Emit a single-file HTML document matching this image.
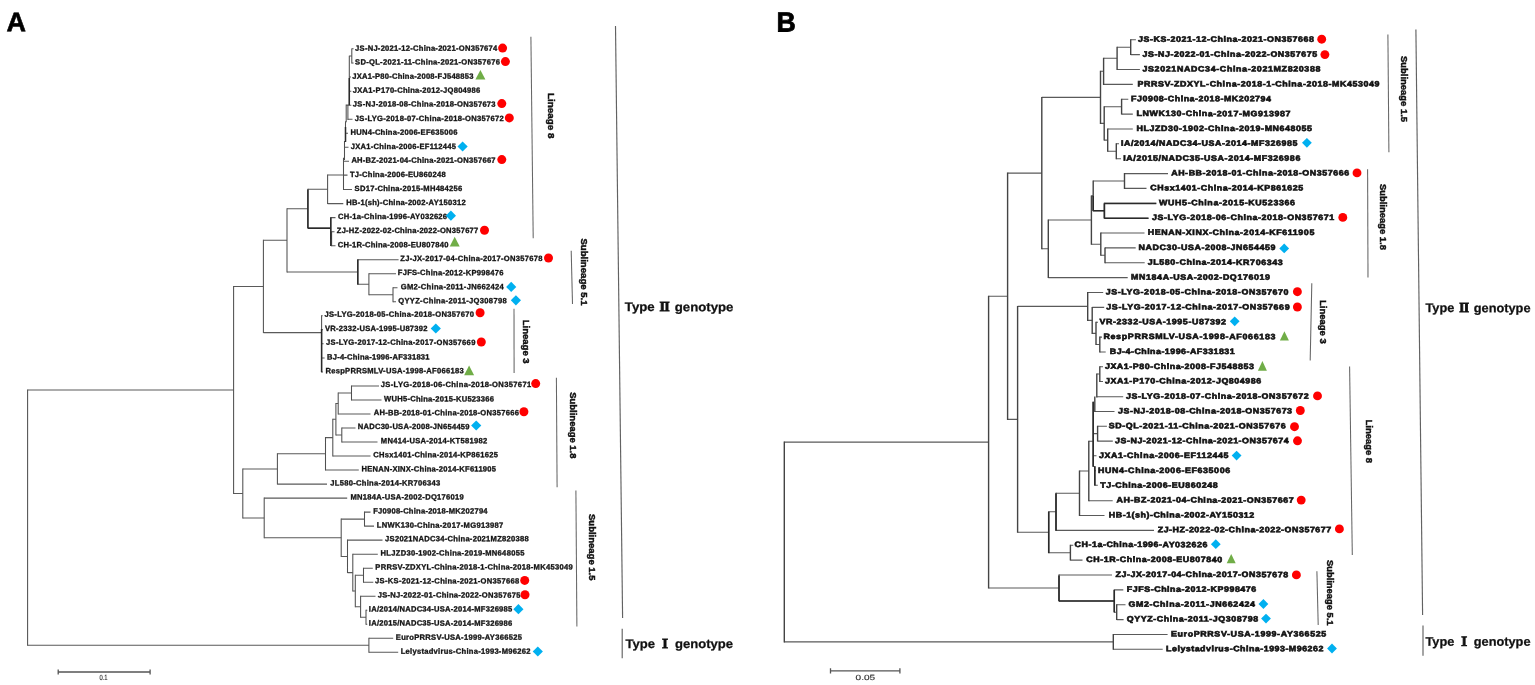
<!DOCTYPE html>
<html lang="en"><head><meta charset="utf-8"><title>Phylogenetic trees</title>
<style>
html,body{margin:0;padding:0;background:#fff;}
body{width:1535px;height:685px;overflow:hidden;}
svg{display:block;font-family:"Liberation Sans","Noto Serif CJK SC",sans-serif;}
.tr{fill:none;stroke:#3c3c3c;stroke-width:1.1;}
.th,.tv{fill:none;}
.tb{fill:none;stroke:#2a2a2a;stroke-width:1.5;}
.lfh{stroke:#5a5a5a;stroke-width:1.05;}
.lfv{stroke:#505050;stroke-width:1.05;}
.rfh{stroke:#5a5a5a;stroke-width:1.1;}
.rfv{stroke:#444;stroke-width:1.4;}
.gl{fill:none;stroke:#666;stroke-width:1.05;}
.bl{fill:none;stroke:#626262;stroke-width:1.15;}
.sc{fill:none;stroke:#555;stroke-width:1.3;}
.lf{font-size:7.6px;font-weight:700;fill:#111;stroke:#151515;stroke-width:0.32px;}
.rf{font-size:7.8px;font-weight:700;fill:#111;stroke:#111;stroke-width:0.6px;}
.gt{font-size:9.4px;font-weight:700;fill:#111;stroke:#111;stroke-width:0.45px;}
.ty{font-size:12.5px;font-weight:700;fill:#111;stroke:#111;stroke-width:0.25px;}
.rn{font-family:"Noto Serif CJK SC",serif;font-weight:900;font-size:12px;stroke-width:0.85px;}
.sl{font-size:7.5px;fill:#333;stroke:#333;stroke-width:0.15px;}
.pn{font-size:27px;font-weight:700;fill:#000;stroke:#000;}
.mc{fill:#ff0000;}.md{fill:#00b0f0;}.mt{fill:#70ad47;}
</style></head>
<body>
<svg width="1535" height="685" viewBox="0 0 1535 685">
<rect width="1535" height="685" fill="#fff"/>
<g id="panelA">
<path class="th lfh" d="M327.6 175H343.5M327.6 203.6H343.3M331.6 231.7H334.5M331.6 245.7H335.5M330.8 217.6H335.5M330.8 238.7H331.6M307.9 189.3H327.6M307.9 228.1H330.8M393 287.7H397.5M393 301.8H396M368.9 273.7H396M368.9 294.8H393M357.8 259.7H398.6M357.8 284.2H368.9M287 208.7H307.9M287 272H357.8M321.6 315.8H322.6M321.6 329.8H323M321.6 343.8H323.6M321.6 357.9H324.6M321.6 371.9H323M263.4 240.3H287M263.4 332.6H321.6M351.5 385.9H379M351.5 399.9H381.5M338.2 392.9H351.5M338.2 413.9H370.5M341.8 428H355.5M341.8 442H377.5M335.9 403.4H338.2M335.9 435H341.8M332.8 419.2H335.9M332.8 456H370.5M325.5 437.6H332.8M325.5 470H358.8M277.4 453.8H325.5M277.4 484.1H327M364.5 512.1H370.5M364.5 526.1H374M363.5 568.2H372.8M363.5 582.2H373.3M366 610.3H367.3M366 624.3H367.3M360.6 596.2H375.5M360.6 617.3H366M355.3 575.2H363.5M355.3 606.8H360.6M352.8 554.2H377.8M352.8 591H355.3M347.5 540.1H382.5M347.5 572.6H352.8M341.2 519.1H364.5M341.2 556.4H347.5M264.2 498.1H347.2M264.2 537.7H341.2M242.8 468.9H277.4M242.8 517.9H264.2M233.6 286.5H263.4M233.6 493.4H242.8M368.9 638.3H393.2M368.9 652.3H398.2M27.6 389.9H233.6M27.6 645.3H368.9M351.8 48.8H353.6M351.8 62.9H353.6M349.3 56H351.8M349.3 77H351M349.3 91.2H351.3M346 105.2H351.3M347.9 119.3H352.5M345.5 133.3H348M344.5 147.3H348.5M343.5 161.3H349M343.5 175.1H347.5M343.5 189.4H352"/>
<path class="tv lfv" d="M327.6 174.5V204.1M331.6 231.2V246.2M330.8 217.1V239.2M307.9 188.8V228.6M393 287.2V302.3M368.9 273.2V295.3M357.8 259.2V284.7M287 208.2V272.5M321.6 315.3V372.4M263.4 239.8V333.1M351.5 385.4V400.4M338.2 392.4V414.4M341.8 427.5V442.5M335.9 402.9V435.5M332.8 418.7V456.5M325.5 437.1V470.5M277.4 453.3V484.6M364.5 511.6V526.6M363.5 567.7V582.7M366 609.8V624.8M360.6 595.7V617.8M355.3 574.7V607.3M352.8 553.7V591.5M347.5 539.6V573.1M341.2 518.6V556.9M264.2 497.6V538.2M242.8 468.4V518.4M233.6 286V493.9M368.9 637.8V652.8M27.6 389.4V645.8M343.5 157.7V189.9M344.5 140.9V160.1M345.5 121.2V141.9M346.2 104.5V122.2M347.9 104.6V119.9M349.3 55.7V105.6M351.8 48.5V63.5"/>
<path class="tb" d="M307.9 189.6L307.9 228.2M307.9 228.3L330.8 228.3M330.8 217.6L330.8 246M349.3 78L349.3 105M345.5 127L345.5 142M321.6 329L321.6 372M357.8 259.5L357.8 284.5"/>
<text class="lf" transform="translate(355.1 50.78) rotate(0.03) scale(1.0 1)" textLength="142.2" lengthAdjust="spacing">JS-NJ-2021-12-China-2021-ON357674</text>
<circle class="mc" cx="502.6" cy="48.1" r="4.5"/>
<text class="lf" transform="translate(355.1 64.54) rotate(0.03) scale(1.0 1)" textLength="144.8" lengthAdjust="spacing">SD-QL-2021-11-China-2021-ON357676</text>
<circle class="mc" cx="505.4" cy="61.6" r="4.5"/>
<text class="lf" transform="translate(352.2 78.7) rotate(0.03) scale(1.0 1)" textLength="121.3" lengthAdjust="spacing">JXA1-P80-China-2008-FJ548853</text>
<path class="mt" d="M475.4 79.5L480.4 70.1L485.4 79.5Z"/>
<text class="lf" transform="translate(352.8 92.81) rotate(0.03) scale(1.0 1)" textLength="127.5" lengthAdjust="spacing">JXA1-P170-China-2012-JQ804986</text>
<text class="lf" transform="translate(352.8 106.57) rotate(0.03) scale(1.0 1)" textLength="142.8" lengthAdjust="spacing">JS-NJ-2018-08-China-2018-ON357673</text>
<circle class="mc" cx="501.8" cy="103.6" r="4.5"/>
<text class="lf" transform="translate(354.8 120.94) rotate(0.03) scale(1.0 1)" textLength="149" lengthAdjust="spacing">JS-LYG-2018-07-China-2018-ON357672</text>
<circle class="mc" cx="509.3" cy="117.9" r="4.5"/>
<text class="lf" transform="translate(350.5 134.8) rotate(0.03) scale(1.0 1)" textLength="106.9" lengthAdjust="spacing">HUN4-China-2006-EF635006</text>
<text class="lf" transform="translate(350.8 148.96) rotate(0.03) scale(1.0 1)" textLength="105.1" lengthAdjust="spacing">JXA1-China-2006-EF112445</text>
<path class="md" d="M457.5 146.5L462.6 141.4L467.7 146.5L462.6 151.6Z"/>
<text class="lf" transform="translate(351.4 162.62) rotate(0.03) scale(1.0 1)" textLength="144.2" lengthAdjust="spacing">AH-BZ-2021-04-China-2021-ON357667</text>
<circle class="mc" cx="501.8" cy="159.6" r="4.5"/>
<text class="lf" transform="translate(349.9 176.93) rotate(0.03) scale(1.0 1)" textLength="95.8" lengthAdjust="spacing">TJ-China-2006-EU860248</text>
<text class="lf" transform="translate(354.6 190.89) rotate(0.03) scale(1.0 1)" textLength="107.7" lengthAdjust="spacing">SD17-China-2015-MH484256</text>
<text class="lf" transform="translate(346.2 204.95) rotate(0.03) scale(1.0 1)" textLength="119.5" lengthAdjust="spacing">HB-1(sh)-China-2002-AY150312</text>
<text class="lf" transform="translate(338.1 219.02) rotate(0.03) scale(1.0 1)" textLength="109" lengthAdjust="spacing">CH-1a-China-1996-AY032626</text>
<path class="md" d="M445.8 215.7L450.9 210.6L456 215.7L450.9 220.8Z"/>
<text class="lf" transform="translate(336.8 232.98) rotate(0.03) scale(1.0 1)" textLength="141.5" lengthAdjust="spacing">ZJ-HZ-2022-02-China-2022-ON357677</text>
<circle class="mc" cx="484.5" cy="230.2" r="4.5"/>
<text class="lf" transform="translate(337.7 247.14) rotate(0.03) scale(1.0 1)" textLength="110.7" lengthAdjust="spacing">CH-1R-China-2008-EU807840</text>
<path class="mt" d="M449.7 246.6L454.7 236.8L459.7 246.6Z"/>
<text class="lf" transform="translate(400.3 260.9) rotate(0.03) scale(1.0 1)" textLength="142.2" lengthAdjust="spacing">ZJ-JX-2017-04-China-2017-ON357678</text>
<circle class="mc" cx="548.5" cy="258" r="4.5"/>
<text class="lf" transform="translate(397.8 275.11) rotate(0.03) scale(1.0 1)" textLength="105.6" lengthAdjust="spacing">FJFS-China-2012-KP998476</text>
<text class="lf" transform="translate(400.7 289.22) rotate(0.03) scale(1.0 1)" textLength="103.1" lengthAdjust="spacing">GM2-China-2011-JN662424</text>
<path class="md" d="M506.1 286.9L511.2 281.8L516.3 286.9L511.2 292Z"/>
<text class="lf" transform="translate(398.2 303.28) rotate(0.03) scale(1.0 1)" textLength="108.5" lengthAdjust="spacing">QYYZ-China-2011-JQ308798</text>
<path class="md" d="M510.8 300.3L515.9 295.2L521 300.3L515.9 305.4Z"/>
<text class="lf" transform="translate(324.4 316.64) rotate(0.03) scale(1.0 1)" textLength="149.7" lengthAdjust="spacing">JS-LYG-2018-05-China-2018-ON357670</text>
<circle class="mc" cx="480.1" cy="312.8" r="4.5"/>
<text class="lf" transform="translate(325 330.96) rotate(0.03) scale(1.0 1)" textLength="102.5" lengthAdjust="spacing">VR-2332-USA-1995-U87392</text>
<path class="md" d="M430.7 328.5L435.8 323.4L440.9 328.5L435.8 333.6Z"/>
<text class="lf" transform="translate(326 344.82) rotate(0.03) scale(1.0 1)" textLength="149.4" lengthAdjust="spacing">JS-LYG-2017-12-China-2017-ON357669</text>
<circle class="mc" cx="481.3" cy="342" r="4.5"/>
<text class="lf" transform="translate(327 359.38) rotate(0.03) scale(1.0 1)" textLength="102.5" lengthAdjust="spacing">BJ-4-China-1996-AF331831</text>
<text class="lf" transform="translate(325.4 373.24) rotate(0.03) scale(1.0 1)" textLength="138.3" lengthAdjust="spacing">RespPRRSMLV-USA-1998-AF066183</text>
<path class="mt" d="M464.1 375.2L469.1 365.6L474.1 375.2Z"/>
<text class="lf" transform="translate(380.8 386.95) rotate(0.03) scale(1.0 1)" textLength="150.4" lengthAdjust="spacing">JS-LYG-2018-06-China-2018-ON357671</text>
<circle class="mc" cx="535.7" cy="383.6" r="4.5"/>
<text class="lf" transform="translate(384.1 401.36) rotate(0.03) scale(1.0 1)" textLength="109.9" lengthAdjust="spacing">WUH5-China-2015-KU523366</text>
<text class="lf" transform="translate(373.7 415.12) rotate(0.03) scale(1.0 1)" textLength="145.2" lengthAdjust="spacing">AH-BB-2018-01-China-2018-ON357666</text>
<circle class="mc" cx="523.9" cy="411.7" r="4.5"/>
<text class="lf" transform="translate(357.7 429.08) rotate(0.03) scale(1.0 1)" textLength="111.9" lengthAdjust="spacing">NADC30-USA-2008-JN654459</text>
<path class="md" d="M471.1 425.5L476.2 420.4L481.3 425.5L476.2 430.6Z"/>
<text class="lf" transform="translate(380.8 443.14) rotate(0.03) scale(1.0 1)" textLength="106.4" lengthAdjust="spacing">MN414-USA-2014-KT581982</text>
<text class="lf" transform="translate(373.3 457.31) rotate(0.03) scale(1.0 1)" textLength="124.6" lengthAdjust="spacing">CHsx1401-China-2014-KP861625</text>
<text class="lf" transform="translate(361.6 471.37) rotate(0.03) scale(1.0 1)" textLength="134.4" lengthAdjust="spacing">HENAN-XINX-China-2014-KF611905</text>
<text class="lf" transform="translate(330.3 485.48) rotate(0.03) scale(1.0 1)" textLength="109.9" lengthAdjust="spacing">JL580-China-2014-KR706343</text>
<text class="lf" transform="translate(350.4 499.54) rotate(0.03) scale(1.0 1)" textLength="113.4" lengthAdjust="spacing">MN184A-USA-2002-DQ176019</text>
<text class="lf" transform="translate(373.2 513.45) rotate(0.03) scale(1.0 1)" textLength="114.4" lengthAdjust="spacing">FJ0908-China-2018-MK202794</text>
<text class="lf" transform="translate(376.7 527.61) rotate(0.03) scale(1.0 1)" textLength="126.6" lengthAdjust="spacing">LNWK130-China-2017-MG913987</text>
<text class="lf" transform="translate(385.1 541.27) rotate(0.03) scale(1.0 1)" textLength="143.6" lengthAdjust="spacing">JS2021NADC34-China-2021MZ820388</text>
<text class="lf" transform="translate(380.6 555.54) rotate(0.03) scale(1.0 1)" textLength="143.8" lengthAdjust="spacing">HLJZD30-1902-China-2019-MN648055</text>
<text class="lf" transform="translate(375.3 569.5) rotate(0.03) scale(1.0 1)" textLength="197.4" lengthAdjust="spacing">PRRSV-ZDXYL-China-2018-1-China-2018-MK453049</text>
<text class="lf" transform="translate(375.1 583.36) rotate(0.03) scale(1.0 1)" textLength="144.2" lengthAdjust="spacing">JS-KS-2021-12-China-2021-ON357668</text>
<circle class="mc" cx="524.7" cy="580.4" r="4.5"/>
<text class="lf" transform="translate(377.7 597.57) rotate(0.03) scale(1.0 1)" textLength="142.8" lengthAdjust="spacing">JS-NJ-2022-01-China-2022-ON357675</text>
<circle class="mc" cx="525" cy="594.7" r="4.5"/>
<text class="lf" transform="translate(368.8 611.53) rotate(0.03) scale(1.0 1)" textLength="143.5" lengthAdjust="spacing">IA/2014/NADC34-USA-2014-MF326985</text>
<path class="md" d="M513.3 609.2L518.4 604.1L523.5 609.2L518.4 614.3Z"/>
<text class="lf" transform="translate(368.8 625.59) rotate(0.03) scale(1.0 1)" textLength="143.5" lengthAdjust="spacing">IA/2015/NADC35-USA-2014-MF326986</text>
<text class="lf" transform="translate(395.8 639.65) rotate(0.03) scale(1.0 1)" textLength="126.2" lengthAdjust="spacing">EuroPRRSV-USA-1999-AY366525</text>
<text class="lf" transform="translate(400.7 653.76) rotate(0.03) scale(1.0 1)" textLength="129.7" lengthAdjust="spacing">Lelystadvirus-China-1993-M96262</text>
<path class="md" d="M532.7 651.5L537.8 646.4L542.9 651.5L537.8 656.6Z"/>
<path class="gl" d="M530.9 36.8L533.2 238.3"/>
<text class="gt" transform="translate(550.4 115.7) rotate(90)" x="-22.8" y="2.4" textLength="45.6" lengthAdjust="spacingAndGlyphs">Lineage 8</text>
<path class="gl" d="M571.2 250.8L572.5 303.9"/>
<text class="gt" transform="translate(583.3 272) rotate(90)" x="-33.6" y="2.4" textLength="67.2" lengthAdjust="spacingAndGlyphs">Sublineage 5.1</text>
<path class="gl" d="M514 308.8L514.1 373"/>
<text class="gt" transform="translate(525.2 341.6) rotate(90)" x="-21.9" y="2.4" textLength="43.9" lengthAdjust="spacingAndGlyphs">Lineage 3</text>
<path class="gl" d="M556.4 377.8L557.1 487.2"/>
<text class="gt" transform="translate(572.2 425.3) rotate(90)" x="-33.1" y="2.4" textLength="66.3" lengthAdjust="spacingAndGlyphs">Sublineage 1.8</text>
<path class="gl" d="M575.9 490.4L576.9 626.4"/>
<text class="gt" transform="translate(591.3 547.2) rotate(90)" x="-33.2" y="2.4" textLength="66.5" lengthAdjust="spacingAndGlyphs">Sublineage 1.5</text>
<path class="bl" d="M615.5 26L622.6 618"/>
<text class="ty" transform="translate(624.8 311.1) rotate(0.03)" textLength="108.7" lengthAdjust="spacingAndGlyphs">Type <tspan class="rn">Ⅱ</tspan> genotype</text>
<path class="bl" d="M622.2 628.7L622.2 658.3"/>
<text class="ty" transform="translate(625.6 647.9) rotate(0.03)" textLength="107.4" lengthAdjust="spacingAndGlyphs">Type <tspan class="rn">Ⅰ</tspan> genotype</text>
<path class="sc" d="M58.2 672H150.1M58.2 669.4V674.4M150.1 669.4V674.4"/>
<text class="sl" transform="translate(99.5 680.1) rotate(0.03)" textLength="8.1" lengthAdjust="spacingAndGlyphs">0.1</text>
<text class="pn" transform="translate(6.5 31.2) rotate(0.03) scale(1.0 1)" style="font-size:27px;stroke-width:0.6px">A</text>
</g>
<g id="panelB">
<path class="th rfh" d="M1130.7 39.8H1135.9M1130.7 54.6H1139.9M1117.1 47.2H1130.7M1117.1 69.5H1139.9M1103.6 58.3H1117.1M1103.6 84.4H1132.8M1121.6 99.2H1128.3M1121.6 114.1H1132.8M1116.3 143.8H1119M1116.3 158.7H1121M1107.7 129H1132.8M1107.7 151.3H1116.3M1104.2 106.7H1121.6M1104.2 140.1H1107.7M1100.5 71.3H1103.6M1100.5 123.4H1104.2M1124.5 173.6H1168M1124.5 188.4H1146.5M1104.4 203.3H1156.3M1104.4 218.2H1148.5M1093.2 181H1124.5M1093.2 210.7H1104.4M1105 247.9H1135.7M1105 262.8H1144.7M1100.8 233H1144.5M1100.8 255.3H1105M1091.4 195.9H1093.2M1091.4 244.2H1100.8M1048.3 220H1091.4M1048.3 277.6H1127.7M1041.8 97.4H1100.5M1041.8 248.8H1048.3M1099.8 337.1H1102M1099.8 352H1105.7M1096 322.2H1098M1096 344.5H1099.8M1092.2 307.4H1104.2M1092.2 333.4H1096M1087.7 292.5H1103.2M1087.7 320.4H1092.2M1088.8 441.3H1093.2M1088.8 500.7H1112.7M1079.5 471H1088.8M1079.5 515.5H1104.5M1056 493.3H1079.5M1056 530.4H1154M1070.4 545.3H1073.3M1070.4 560.1H1082.5M1048.7 511.8H1056M1048.7 552.7H1070.4M1017.6 306.4H1087.7M1017.6 532.3H1048.7M1007.6 173.1H1041.8M1007.6 419.4H1017.6M1116.7 604.7H1125.5M1116.7 619.6H1123.6M1114.3 589.9H1123.3M1114.3 612.2H1116.7M1059 575H1112M1059 601H1114.3M988.6 296.2H1007.6M988.6 588H1059M1113.3 634.5H1167.6M1113.3 649.3H1162.7M784.3 442.1H988.6M784.3 641.9H1113.3M1099.8 366.7H1103M1099.8 381.5H1103M1096.8 374H1099.8M1096.8 396.8H1123.2M1094.8 411.5H1114.5M1093.2 433.6H1097.6M1097.6 426.2H1106.9M1097.6 441.1H1112.8M1093.2 455.7H1096.5M1094.8 470.7H1096M1094.8 485.3H1097.8"/>
<path class="tv rfv" d="M1130.7 39.2V55.1M1117.1 46.7V70M1103.6 57.8V84.9M1121.6 98.7V114.6M1116.3 143.3V159.2M1107.7 128.5V151.8M1104.2 106.2V140.6M1100.5 70.8V123.9M1124.5 173.1V188.9M1104.4 202.8V218.7M1093.2 180.5V211.2M1105 247.4V263.3M1100.8 232.5V255.8M1091.4 195.4V244.7M1048.3 219.5V278.1M1041.8 96.9V249.3M1099.8 336.6V352.5M1096 321.7V345M1092.2 306.9V333.9M1087.7 292V320.9M1088.8 440.8V501.2M1079.5 470.5V516M1056 492.8V530.9M1070.4 544.8V560.6M1048.7 511.3V553.2M1017.6 305.9V532.8M1007.6 172.6V419.9M1116.7 604.2V620.1M1114.3 589.4V612.7M1059 574.5V601.5M988.6 295.7V588.5M1113.3 634V649.8M784.3 441.6V642.4M1099.8 366.2V382M1096.8 373.5V397.5M1094.8 396.5V412M1093.2 401.5V466.9M1097.6 425.7V441.6M1094.8 465.9V485.8"/>
<path class="tb" d="M1104.4 203.4L1104.4 218.3M1104.4 203.4L1156.3 203.4M1104.4 218.3L1148.5 218.3M1093.2 210.8L1104.4 210.8M1093.2 196L1093.2 211M1056 493.5L1056 530.5M1048.7 512L1048.7 553M1059 575.8L1059 601M1059 601L1114.3 601M1114.3 590L1114.3 612M1093.2 402L1093.2 466.4M1094.8 466.4L1094.8 485.3"/>
<text class="rf" transform="translate(1138 41.67) rotate(0.03) scale(1.14 1)" textLength="154.4" lengthAdjust="spacing">JS-KS-2021-12-China-2021-ON357668</text>
<circle class="mc" cx="1321.7" cy="39.2" r="4.45"/>
<text class="rf" transform="translate(1142.5 56.71) rotate(0.03) scale(1.14 1)" textLength="153.3" lengthAdjust="spacing">JS-NJ-2022-01-China-2022-ON357675</text>
<circle class="mc" cx="1324.9" cy="54.6" r="4.45"/>
<text class="rf" transform="translate(1142.5 71.49) rotate(0.03) scale(1.14 1)" textLength="156.1" lengthAdjust="spacing">JS2021NADC34-China-2021MZ820388</text>
<text class="rf" transform="translate(1137.6 86.48) rotate(0.03) scale(1.14 1)" textLength="212.2" lengthAdjust="spacing">PRRSV-ZDXYL-China-2018-1-China-2018-MK453049</text>
<text class="rf" transform="translate(1131.1 101.31) rotate(0.03) scale(1.14 1)" textLength="122.7" lengthAdjust="spacing">FJ0908-China-2018-MK202794</text>
<text class="rf" transform="translate(1136.6 116.09) rotate(0.03) scale(1.14 1)" textLength="135" lengthAdjust="spacing">LNWK130-China-2017-MG913987</text>
<text class="rf" transform="translate(1136.6 130.88) rotate(0.03) scale(1.14 1)" textLength="153.9" lengthAdjust="spacing">HLJZD30-1902-China-2019-MN648055</text>
<text class="rf" transform="translate(1121 145.66) rotate(0.03) scale(1.14 1)" textLength="154.7" lengthAdjust="spacing">IA/2014/NADC34-USA-2014-MF326985</text>
<path class="md" d="M1302 142.8L1306.9 137.9L1311.8 142.8L1306.9 147.7Z"/>
<text class="rf" transform="translate(1123.3 160.65) rotate(0.03) scale(1.14 1)" textLength="155.3" lengthAdjust="spacing">IA/2015/NADC35-USA-2014-MF326986</text>
<text class="rf" transform="translate(1171.2 175.38) rotate(0.03) scale(1.14 1)" textLength="156.1" lengthAdjust="spacing">AH-BB-2018-01-China-2018-ON357666</text>
<circle class="mc" cx="1357" cy="172.9" r="4.45"/>
<text class="rf" transform="translate(1150.3 190.37) rotate(0.03) scale(1.14 1)" textLength="134.2" lengthAdjust="spacing">CHsx1401-China-2014-KP861625</text>
<text class="rf" transform="translate(1159.1 205.15) rotate(0.03) scale(1.14 1)" textLength="119.2" lengthAdjust="spacing">WUH5-China-2015-KU523366</text>
<text class="rf" transform="translate(1151.9 219.88) rotate(0.03) scale(1.14 1)" textLength="159.9" lengthAdjust="spacing">JS-LYG-2018-06-China-2018-ON357671</text>
<circle class="mc" cx="1342.8" cy="217.4" r="4.45"/>
<text class="rf" transform="translate(1147.8 234.87) rotate(0.03) scale(1.14 1)" textLength="146.1" lengthAdjust="spacing">HENAN-XINX-China-2014-KF611905</text>
<text class="rf" transform="translate(1138.6 249.9) rotate(0.03) scale(1.14 1)" textLength="120.1" lengthAdjust="spacing">NADC30-USA-2008-JN654459</text>
<path class="md" d="M1279.3 248.4L1284.2 243.5L1289.1 248.4L1284.2 253.3Z"/>
<text class="rf" transform="translate(1147.8 264.83) rotate(0.03) scale(1.14 1)" textLength="118.3" lengthAdjust="spacing">JL580-China-2014-KR706343</text>
<text class="rf" transform="translate(1131.1 279.62) rotate(0.03) scale(1.14 1)" textLength="121.8" lengthAdjust="spacing">MN184A-USA-2002-DQ176019</text>
<text class="rf" transform="translate(1105.7 294.55) rotate(0.03) scale(1.14 1)" textLength="160.4" lengthAdjust="spacing">JS-LYG-2018-05-China-2018-ON357670</text>
<circle class="mc" cx="1297.4" cy="291.7" r="4.45"/>
<text class="rf" transform="translate(1106.3 309.54) rotate(0.03) scale(1.14 1)" textLength="160.8" lengthAdjust="spacing">JS-LYG-2017-12-China-2017-ON357669</text>
<circle class="mc" cx="1297.4" cy="307" r="4.45"/>
<text class="rf" transform="translate(1099.5 324.32) rotate(0.03) scale(1.14 1)" textLength="111" lengthAdjust="spacing">VR-2332-USA-1995-U87392</text>
<path class="md" d="M1229.8 321.3L1234.7 316.4L1239.6 321.3L1234.7 326.2Z"/>
<text class="rf" transform="translate(1103.4 339.06) rotate(0.03) scale(1.14 1)" textLength="151" lengthAdjust="spacing">RespPRRSMLV-USA-1998-AF066183</text>
<path class="mt" d="M1279.9 340.4L1284.4 331.3L1288.9 340.4Z"/>
<text class="rf" transform="translate(1109.8 353.94) rotate(0.03) scale(1.14 1)" textLength="109.6" lengthAdjust="spacing">BJ-4-China-1996-AF331831</text>
<text class="rf" transform="translate(1104.9 368.87) rotate(0.03) scale(1.14 1)" textLength="130.7" lengthAdjust="spacing">JXA1-P80-China-2008-FJ548853</text>
<path class="mt" d="M1257.9 370.7L1262.4 360.9L1266.9 370.7Z"/>
<text class="rf" transform="translate(1104.9 383.51) rotate(0.03) scale(1.14 1)" textLength="137.2" lengthAdjust="spacing">JXA1-P170-China-2012-JQ804986</text>
<text class="rf" transform="translate(1126 398.64) rotate(0.03) scale(1.14 1)" textLength="160.3" lengthAdjust="spacing">JS-LYG-2018-07-China-2018-ON357672</text>
<circle class="mc" cx="1317.5" cy="395.9" r="4.45"/>
<text class="rf" transform="translate(1118 413.38) rotate(0.03) scale(1.14 1)" textLength="152.7" lengthAdjust="spacing">JS-NJ-2018-08-China-2018-ON357673</text>
<circle class="mc" cx="1300.3" cy="410.5" r="4.45"/>
<text class="rf" transform="translate(1108.8 428.36) rotate(0.03) scale(1.14 1)" textLength="155.1" lengthAdjust="spacing">SD-QL-2021-11-China-2021-ON357676</text>
<circle class="mc" cx="1294.5" cy="426.7" r="4.45"/>
<text class="rf" transform="translate(1115.1 443.24) rotate(0.03) scale(1.14 1)" textLength="152.3" lengthAdjust="spacing">JS-NJ-2021-12-China-2021-ON357674</text>
<circle class="mc" cx="1297.5" cy="440.8" r="4.45"/>
<text class="rf" transform="translate(1099 457.98) rotate(0.03) scale(1.14 1)" textLength="113.6" lengthAdjust="spacing">JXA1-China-2006-EF112445</text>
<path class="md" d="M1231.7 455.6L1236.6 450.7L1241.5 455.6L1236.6 460.5Z"/>
<text class="rf" transform="translate(1098 472.96) rotate(0.03) scale(1.14 1)" textLength="115.9" lengthAdjust="spacing">HUN4-China-2006-EF635006</text>
<text class="rf" transform="translate(1100.2 487.65) rotate(0.03) scale(1.14 1)" textLength="103.1" lengthAdjust="spacing">TJ-China-2006-EU860248</text>
<text class="rf" transform="translate(1116.6 502.58) rotate(0.03) scale(1.14 1)" textLength="155.3" lengthAdjust="spacing">AH-BZ-2021-04-China-2021-ON357667</text>
<circle class="mc" cx="1301.2" cy="500.1" r="4.45"/>
<text class="rf" transform="translate(1108.8 517.56) rotate(0.03) scale(1.14 1)" textLength="127.6" lengthAdjust="spacing">HB-1(sh)-China-2002-AY150312</text>
<text class="rf" transform="translate(1157.7 532.15) rotate(0.03) scale(1.14 1)" textLength="152.2" lengthAdjust="spacing">ZJ-HZ-2022-02-China-2022-ON357677</text>
<circle class="mc" cx="1339.4" cy="528.9" r="4.45"/>
<text class="rf" transform="translate(1074.6 547.08) rotate(0.03) scale(1.14 1)" textLength="116.5" lengthAdjust="spacing">CH-1a-China-1996-AY032626</text>
<path class="md" d="M1210.9 544.2L1215.8 539.3L1220.7 544.2L1215.8 549.1Z"/>
<text class="rf" transform="translate(1086.3 562.06) rotate(0.03) scale(1.14 1)" textLength="119.2" lengthAdjust="spacing">CH-1R-China-2008-EU807840</text>
<path class="mt" d="M1226.7 563.2L1231.2 554L1235.7 563.2Z"/>
<text class="rf" transform="translate(1115.6 577.05) rotate(0.03) scale(1.14 1)" textLength="151.4" lengthAdjust="spacing">ZJ-JX-2017-04-China-2017-ON357678</text>
<circle class="mc" cx="1296.4" cy="574.9" r="4.45"/>
<text class="rf" transform="translate(1126.8 591.73) rotate(0.03) scale(1.14 1)" textLength="113.6" lengthAdjust="spacing">FJFS-China-2012-KP998476</text>
<text class="rf" transform="translate(1128.4 606.77) rotate(0.03) scale(1.14 1)" textLength="111" lengthAdjust="spacing">GM2-China-2011-JN662424</text>
<path class="md" d="M1258.5 604L1263.4 599.1L1268.3 604L1263.4 608.9Z"/>
<text class="rf" transform="translate(1126.8 621.55) rotate(0.03) scale(1.14 1)" textLength="115.3" lengthAdjust="spacing">QYYZ-China-2011-JQ308798</text>
<path class="md" d="M1261.1 618.6L1266 613.7L1270.9 618.6L1266 623.5Z"/>
<text class="rf" transform="translate(1171 636.38) rotate(0.03) scale(1.14 1)" textLength="136.2" lengthAdjust="spacing">EuroPRRSV-USA-1999-AY366525</text>
<text class="rf" transform="translate(1166.1 651.17) rotate(0.03) scale(1.14 1)" textLength="138" lengthAdjust="spacing">Lelystadvirus-China-1993-M96262</text>
<path class="md" d="M1327.1 648.5L1332 643.6L1336.9 648.5L1332 653.4Z"/>
<path class="gl" d="M1387.9 34.5L1388.9 152.3"/>
<text class="gt" transform="translate(1403 89) rotate(90)" x="-33" y="2.4" textLength="66" lengthAdjust="spacingAndGlyphs">Sublineage 1.5</text>
<path class="gl" d="M1367.6 169.2L1368 277.5"/>
<text class="gt" transform="translate(1382.8 216.9) rotate(90)" x="-33" y="2.4" textLength="66" lengthAdjust="spacingAndGlyphs">Sublineage 1.8</text>
<path class="gl" d="M1311.8 283.3L1310.2 360.6"/>
<text class="gt" transform="translate(1322.3 321.9) rotate(90)" x="-21.9" y="2.4" textLength="43.7" lengthAdjust="spacingAndGlyphs">Lineage 3</text>
<path class="gl" d="M1349.6 366.4L1352.3 555"/>
<text class="gt" transform="translate(1368.7 441.3) rotate(90)" x="-21.8" y="2.4" textLength="43.6" lengthAdjust="spacingAndGlyphs">Lineage 8</text>
<path class="gl" d="M1316.9 571.3L1318.2 625.1"/>
<text class="gt" transform="translate(1329.4 592.8) rotate(90)" x="-32.8" y="2.4" textLength="65.5" lengthAdjust="spacingAndGlyphs">Sublineage 5.1</text>
<path class="bl" d="M1415.9 29.6L1422.6 615"/>
<text class="ty" transform="translate(1425.5 312.1) rotate(0.03)" textLength="105" lengthAdjust="spacingAndGlyphs">Type <tspan class="rn">Ⅱ</tspan> genotype</text>
<path class="bl" d="M1423 625.6L1423 655.8"/>
<text class="ty" transform="translate(1425.5 645.8) rotate(0.03)" textLength="105" lengthAdjust="spacingAndGlyphs">Type <tspan class="rn">Ⅰ</tspan> genotype</text>
<path class="sc" d="M830.5 670.8H899.9M830.5 668.3V673.5M899.9 668.3V673.5"/>
<text class="sl" transform="translate(855.6 679.9) rotate(0.03)" textLength="19.5" lengthAdjust="spacingAndGlyphs">0.05</text>
<text class="pn" transform="translate(776.5 31.4) rotate(0.03) scale(0.97 1)" style="font-size:27.5px;stroke-width:0.8px">B</text>
</g>
</svg>
</body></html>
